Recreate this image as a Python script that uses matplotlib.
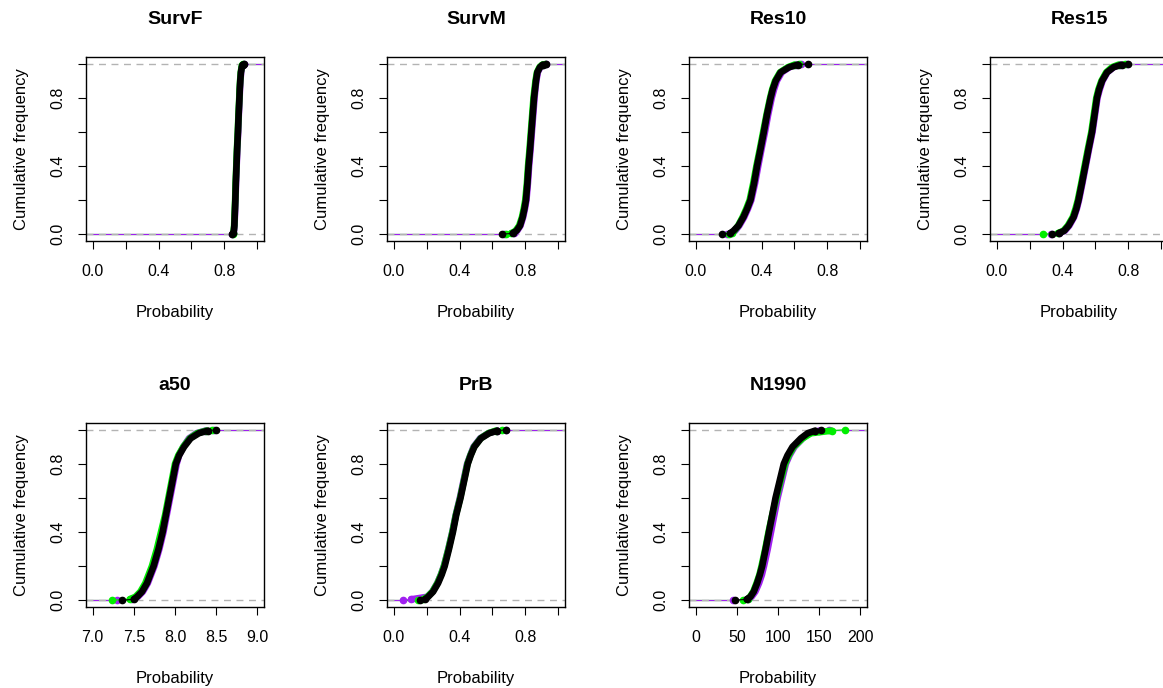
"""
ECDF comparison of posterior samples (three runs) for seven parameters.
R-style panels laid out 2 x 4, the right column cut at the image edge.
"""
import matplotlib
matplotlib.use("Agg")
import matplotlib.pyplot as plt

plt.rcParams["font.family"] = ["Liberation Sans", "DejaVu Sans"]

levels = [0, 0.005, 0.02, 0.05, 0.1, 0.15, 0.2, 0.3, 0.4, 0.5, 0.6, 0.7, 0.8, 0.85, 0.9, 0.95, 0.98, 0.995, 1.0]

panel_names = ["SurvF", "SurvM", "Res10", "Res15", "a50", "PrB", "N1990"]

survf_black = [0.846, 0.852, 0.857, 0.860, 0.862, 0.864, 0.866, 0.869, 0.873, 0.877, 0.882, 0.886, 0.891, 0.893, 0.896, 0.900, 0.905, 0.910, 0.918]
survf_green = [0.850, 0.853, 0.856, 0.859, 0.861, 0.863, 0.865, 0.868, 0.872, 0.876, 0.881, 0.885, 0.890, 0.892, 0.895, 0.899, 0.904, 0.909, 0.915]
survf_purple = [0.848, 0.853, 0.858, 0.861, 0.863, 0.865, 0.867, 0.870, 0.874, 0.878, 0.883, 0.887, 0.892, 0.894, 0.897, 0.901, 0.906, 0.911, 0.916]

survm_black = [0.660, 0.722, 0.746, 0.767, 0.783, 0.794, 0.803, 0.812, 0.819, 0.828, 0.836, 0.844, 0.852, 0.858, 0.864, 0.872, 0.888, 0.905, 0.925]
survm_green = [0.680, 0.715, 0.740, 0.762, 0.779, 0.790, 0.799, 0.809, 0.816, 0.825, 0.833, 0.841, 0.849, 0.855, 0.861, 0.870, 0.885, 0.902, 0.920]
survm_purple = [0.670, 0.730, 0.750, 0.770, 0.786, 0.797, 0.806, 0.815, 0.822, 0.831, 0.839, 0.847, 0.855, 0.860, 0.866, 0.875, 0.890, 0.907, 0.922]

res10_black = [0.160, 0.210, 0.230, 0.260, 0.290, 0.313, 0.333, 0.355, 0.373, 0.394, 0.414, 0.433, 0.455, 0.468, 0.486, 0.516, 0.567, 0.620, 0.680]
res10_green = [0.200, 0.220, 0.235, 0.258, 0.285, 0.308, 0.328, 0.350, 0.369, 0.390, 0.410, 0.430, 0.452, 0.465, 0.482, 0.512, 0.560, 0.600, 0.630]
res10_purple = [0.190, 0.215, 0.240, 0.265, 0.295, 0.318, 0.338, 0.361, 0.380, 0.400, 0.421, 0.440, 0.462, 0.476, 0.493, 0.523, 0.570, 0.610, 0.640]

res15_black = [0.335, 0.376, 0.410, 0.437, 0.467, 0.484, 0.497, 0.518, 0.538, 0.558, 0.579, 0.594, 0.609, 0.622, 0.640, 0.670, 0.710, 0.760, 0.800]
res15_green = [0.284, 0.370, 0.405, 0.432, 0.462, 0.479, 0.493, 0.514, 0.534, 0.554, 0.575, 0.590, 0.605, 0.618, 0.636, 0.665, 0.700, 0.740, 0.780]
res15_purple = [0.330, 0.380, 0.414, 0.441, 0.470, 0.487, 0.500, 0.521, 0.541, 0.561, 0.582, 0.597, 0.612, 0.626, 0.643, 0.672, 0.710, 0.750, 0.790]

a50_black = [7.36, 7.50, 7.54, 7.60, 7.66, 7.70, 7.74, 7.80, 7.85, 7.89, 7.93, 7.97, 8.01, 8.05, 8.11, 8.19, 8.29, 8.40, 8.50]
a50_green = [7.24, 7.45, 7.52, 7.58, 7.64, 7.68, 7.72, 7.78, 7.83, 7.88, 7.92, 7.96, 8.00, 8.04, 8.10, 8.18, 8.27, 8.38, 8.45]
a50_purple = [7.30, 7.48, 7.55, 7.61, 7.67, 7.71, 7.75, 7.81, 7.86, 7.90, 7.94, 7.98, 8.02, 8.05, 8.10, 8.17, 8.26, 8.37, 8.47]

prb_black = [0.160, 0.190, 0.210, 0.240, 0.270, 0.292, 0.310, 0.336, 0.360, 0.380, 0.406, 0.428, 0.450, 0.468, 0.490, 0.530, 0.580, 0.630, 0.685]
prb_green = [0.150, 0.180, 0.205, 0.236, 0.266, 0.288, 0.306, 0.333, 0.357, 0.378, 0.404, 0.426, 0.448, 0.466, 0.488, 0.528, 0.575, 0.620, 0.660]
prb_purple = [0.057, 0.107, 0.205, 0.235, 0.265, 0.287, 0.305, 0.332, 0.356, 0.377, 0.402, 0.424, 0.446, 0.465, 0.485, 0.525, 0.575, 0.630, 0.680]

n1990_black = [48, 62, 66.5, 70.6, 74.7, 78, 80.8, 85, 89, 93, 97, 102, 107, 111.5, 117.6, 127.8, 136, 145, 152]
n1990_green = [58, 63, 66, 70, 74, 77.5, 80, 84.5, 88.5, 93, 98, 103, 108.5, 113, 119, 130, 140, 165, 181]
n1990_purple = [45, 63, 68, 72.5, 77, 80.5, 83, 87.5, 91.5, 95.5, 99.5, 104.5, 109.5, 114, 120, 130, 138, 150, 162]

# x axis ranges and tick labels
prob_range = (0, 1)
prob_ticks = [0, 0.2, 0.4, 0.6, 0.8, 1.0]
prob_ticklabels = ["0.0", "", "0.4", "", "0.8", ""]
a50_range = (7, 9)
a50_ticks = [7.0, 7.5, 8.0, 8.5, 9.0]
a50_ticklabels = ["7.0", "7.5", "8.0", "8.5", "9.0"]
n1990_range = (0, 200)
n1990_ticks = [0, 50, 100, 150, 200]
n1990_ticklabels = ["0", "50", "100", "150", "200"]

y_ticks = [0, 0.2, 0.4, 0.6, 0.8, 1.0]
y_ticklabels = ["0.0", "", "0.4", "", "0.8", ""]

PURPLE = "#A020F0"
GREEN = "#00EE00"
BLACK = "black"


def draw_panel(ax, title, black, green, purple, xr, ticks, ticklabels):
    pad = 0.04 * (xr[1] - xr[0])
    ax.set_xlim(xr[0] - pad, xr[1] + pad)
    ax.set_ylim(-0.04, 1.04)
    x0, x1 = ax.get_xlim()

    # step tails out to the plot edges
    for vals, col in [(black, BLACK), (green, GREEN), (purple, PURPLE)]:
        ax.plot([x0, vals[0]], [0, 0], color=col, lw=0.8, zorder=1)
        ax.plot([vals[-1], x1], [1, 1], color=col, lw=0.8, zorder=1)
    for h in (0, 1):
        ax.axhline(h, color="#b3b3b3", lw=1.0, ls=(0, (5, 4)), zorder=2)

    for z, (vals, col) in enumerate([(purple, PURPLE), (green, GREEN), (black, BLACK)]):
        ax.plot(vals, levels, color=col, lw=0.8, zorder=3 + z)
        ax.plot(vals[1:-1], levels[1:-1], color=col, lw=4.8,
                solid_capstyle="round", solid_joinstyle="round", zorder=3 + z)
        ax.plot([vals[0], vals[1], vals[-2], vals[-1]],
                [levels[0], levels[1], levels[-2], levels[-1]],
                "o", color=col, ms=4.5, ls="none", zorder=3 + z)

    ax.set_xticks(ticks)
    ax.set_xticklabels(ticklabels)
    ax.set_yticks(y_ticks)
    ax.set_yticklabels(y_ticklabels, rotation=90, va="center")
    ax.tick_params(length=5.5, width=0.8, labelsize=11.5, colors="black")
    ax.tick_params(axis="x", pad=11)
    ax.tick_params(axis="y", pad=9.5)
    for s in ax.spines.values():
        s.set_linewidth(1.0)
    ax.set_title(title, fontsize=14, fontweight="bold", pad=23.5)
    ax.set_xlabel("Probability", fontsize=12, labelpad=19)
    ax.set_ylabel("Cumulative frequency", fontsize=12, labelpad=15)


W, H = 1163, 688
fig = plt.figure(figsize=(W / 100, H / 100), dpi=100)

box_w, box_h = 178, 184
col_left = [86, 387, 689, 990]
row_top = [57, 423]

panels = [
    (survf_black, survf_green, survf_purple, prob_range, prob_ticks, prob_ticklabels),
    (survm_black, survm_green, survm_purple, prob_range, prob_ticks, prob_ticklabels),
    (res10_black, res10_green, res10_purple, prob_range, prob_ticks, prob_ticklabels),
    (res15_black, res15_green, res15_purple, prob_range, prob_ticks, prob_ticklabels),
    (a50_black, a50_green, a50_purple, a50_range, a50_ticks, a50_ticklabels),
    (prb_black, prb_green, prb_purple, prob_range, prob_ticks, prob_ticklabels),
    (n1990_black, n1990_green, n1990_purple, n1990_range, n1990_ticks, n1990_ticklabels),
]

for i, (name, p) in enumerate(zip(panel_names, panels)):
    r, c = divmod(i, 4)
    left = col_left[c] / W
    bottom = 1 - (row_top[r] + box_h) / H
    ax = fig.add_axes([left, bottom, box_w / W, box_h / H])
    draw_panel(ax, name, *p)

fig.savefig("out.png", dpi=100)
